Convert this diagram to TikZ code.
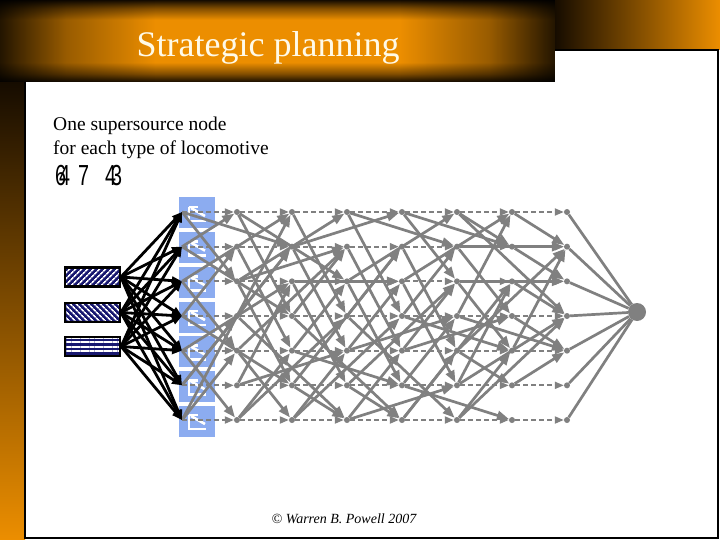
\documentclass[tikz,border=0pt]{standalone}
\usepackage{fontspec}
\setmainfont{Liberation Serif}
\newfontfamily\digitfont{Liberation Sans}
\usetikzlibrary{arrows.meta,patterns.meta,shadings}
\definecolor{orng}{RGB}{236,142,0}
\definecolor{dk}{RGB}{22,12,0}
\definecolor{netgray}{RGB}{128,128,128}
\definecolor{boxblue}{RGB}{140,172,240}
\definecolor{navy}{RGB}{24,24,112}
\definecolor{cream}{RGB}{255,250,232}
\pgfdeclareverticalshading{bannerv}{100bp}{color(0bp)=(dk); color(25bp)=(dk); color(30bp)=(orng!50!dk); color(37bp)=(orng); color(63bp)=(orng); color(70bp)=(orng!50!dk); color(75bp)=(dk); color(100bp)=(dk)}
\pgfdeclarehorizontalshading{bannerh}{100bp}{color(0bp)=(black!85); color(25bp)=(black!85); color(31bp)=(black!35); color(39bp)=(white); color(61bp)=(white); color(69bp)=(black!35); color(75bp)=(black!85); color(100bp)=(black!85)}
\tikzset{
  dot/.style={circle, fill=netgray, inner sep=0pt, minimum size=6pt},
  sinknode/.style={circle, fill=netgray, inner sep=0pt, minimum size=18pt},
  bluebox/.style={fill=boxblue, inner sep=0pt, minimum width=36pt, minimum height=31pt},
  loco/.style={draw=black, line width=2.5pt, inner sep=0pt, minimum width=55pt, minimum height=19pt},
  sol/.style={draw=netgray, line width=2.7pt, -{Triangle[length=12pt,width=9pt]}},
  dsh/.style={draw=netgray, line width=1.9pt, dash pattern=on 5pt off 3pt, -{Triangle[length=9pt,width=7pt]}},
  sinkln/.style={draw=netgray, line width=2.7pt},
  blk/.style={draw=black, line width=2.8pt, -{Triangle[length=10pt,width=8pt]}},
  icon/.style={draw=white, line width=2.6pt},
}
\begin{document}
\begin{tikzpicture}[x=1pt,y=-1pt]
\useasboundingbox (0,0) rectangle (720,540);
% background
\fill[white] (0,0) rectangle (720,540);
\shade[top color=dk, bottom color=orng] (0,82) rectangle (25,540);
\shade[shading=bannerv] (0,0) rectangle (555,82);
\shade[shading=bannerh, blend mode=multiply] (0,0) rectangle (555,82);
\shade[left color=dk, right color=orng] (555,0) rectangle (720,50);
\fill[white] (25,82) rectangle (718,538);
\fill[white] (555,50) rectangle (718,82);
\draw[line width=2pt, black] (25,82) -- (25,538) -- (718,538) -- (718,50) -- (555,50);
% texts
\node[anchor=base, text=cream, font=\fontsize{36}{40}\selectfont, inner sep=0pt] (title) at (268,57) {Strategic planning};
\node[anchor=base west, font=\fontsize{19.5}{24}\selectfont, inner sep=0pt] (l1) at (53,131) {One supersource node};
\node[anchor=base west, font=\fontsize{19.5}{24}\selectfont, inner sep=0pt] (l2) at (53,155) {for each type of locomotive};
\begin{scope}[every node/.style={anchor=base west, inner sep=0pt, font=\digitfont\fontsize{29}{30}\selectfont, xscale=0.68}]
\node (g1) at (55,186) {6};
\node (g2) at (59,186) {4};
\node (g3) at (78,186) {7};
\node (g4) at (105,186) {4};
\node (g5) at (111,186) {3};
\end{scope}
\node[font=\fontsize{14}{16}\selectfont\itshape, inner sep=0pt] (copy) at (344,519) {© Warren B. Powell 2007};
% blue boxes with icons
\foreach \r in {0,...,6} {
  \node[bluebox] (b\r) at (197,{213+34.67*\r}) {};
  \draw[icon] ([shift={(-8,-6)}]b\r.center) -- ([shift={(-8,8)}]b\r.center) -- ([shift={(9,8)}]b\r.center);
  \draw[icon] ([shift={(-8,-6)}]b\r.center) -- ([shift={(1,-6)}]b\r.center);
  \draw[icon] ([shift={(8,3)}]b\r.center) -- ([shift={(-6,-5)}]b\r.center);
}
% network nodes
\foreach \r in {0,...,6} {
  \coordinate (n0-\r) at (182,{212+34.67*\r});
  \foreach \c in {1,...,7} {
    \node[dot] (n\c-\r) at ({182+55*\c},{212+34.67*\r}) {};
  }
}
\node[sinknode] (sink) at (637,312) {};
% dashed horizontal arcs
\foreach \c [evaluate=\c as \cn using int(\c+1)] in {0,...,6} {
  \foreach \r in {0,...,6} {
    \draw[dsh] (n\c-\r) -- (n\cn-\r);
  }
}
% solid arcs
\foreach \a/\b/\c/\d in {
 0/0/2/1, 0/0/1/2, 0/1/1/0, 0/1/2/3, 0/2/1/4, 0/2/2/0, 0/3/1/1, 0/3/2/5, 0/4/1/6, 0/4/2/2, 0/5/1/3, 0/5/2/1, 0/6/1/4, 0/6/2/0,
 1/0/2/3, 1/0/3/2, 1/1/2/4, 1/2/3/0, 1/2/2/5, 1/3/2/1, 1/3/3/6, 1/4/2/6, 1/4/3/1, 1/5/2/2, 1/5/3/4, 1/6/2/4, 1/6/3/3, 1/2/3/1,
 2/0/3/3, 2/1/4/0, 2/1/3/4, 2/2/3/5, 2/2/4/2, 2/3/3/1, 2/3/4/6, 2/4/3/2, 2/4/4/5, 2/5/3/6, 2/5/4/1, 2/6/3/4, 2/6/4/3,
 3/0/4/3, 3/0/5/1, 3/1/4/4, 3/2/5/0, 3/2/4/5, 3/3/4/1, 3/3/5/6, 3/4/4/2, 3/4/5/3, 3/5/4/6, 3/5/5/2, 3/6/4/4, 3/6/5/5,
 4/0/5/2, 4/0/6/1, 4/1/5/4, 4/2/6/0, 4/2/5/5, 4/3/5/1, 4/3/6/4, 4/4/5/2, 4/4/6/3, 4/5/5/3, 4/5/6/6, 4/6/5/4, 4/6/6/2,
 5/0/6/1, 5/0/7/3, 5/1/6/3, 5/1/7/1, 5/2/6/4, 5/2/7/2, 5/3/6/0, 5/3/7/4, 5/4/7/1, 5/4/6/5, 5/5/7/3, 5/5/6/2, 5/6/7/3, 5/6/6/4,
 6/1/7/2, 6/3/7/4, 6/5/7/4, 6/2/7/3, 6/4/7/1, 6/0/7/1} {
  \draw[sol] (n\a-\b) -- (n\c-\d);
}
% arcs into the sink
\foreach \r in {0,...,6} {
  \draw[sinkln] (n7-\r) -- (sink);
}
% locomotive supersources
\node[loco, preaction={fill=navy}, pattern={Lines[angle=45,distance=4pt,line width=1.7pt]}, pattern color=white] (L1) at (92.5,277) {};
\node[loco, preaction={fill=navy}, pattern={Lines[angle=-45,distance=4pt,line width=1.7pt]}, pattern color=white] (L2) at (92.5,312.5) {};
\node[loco, preaction={fill=navy}, pattern={Lines[angle=0,distance=4.6pt,line width=2.2pt]}, pattern color=white] (L3) at (92.5,346.5) {};
\foreach \i in {1,2,3} {
  \foreach \r in {0,...,6} {
    \draw[blk] (L\i.east) -- (n0-\r);
  }
}
\end{tikzpicture}
\end{document}
